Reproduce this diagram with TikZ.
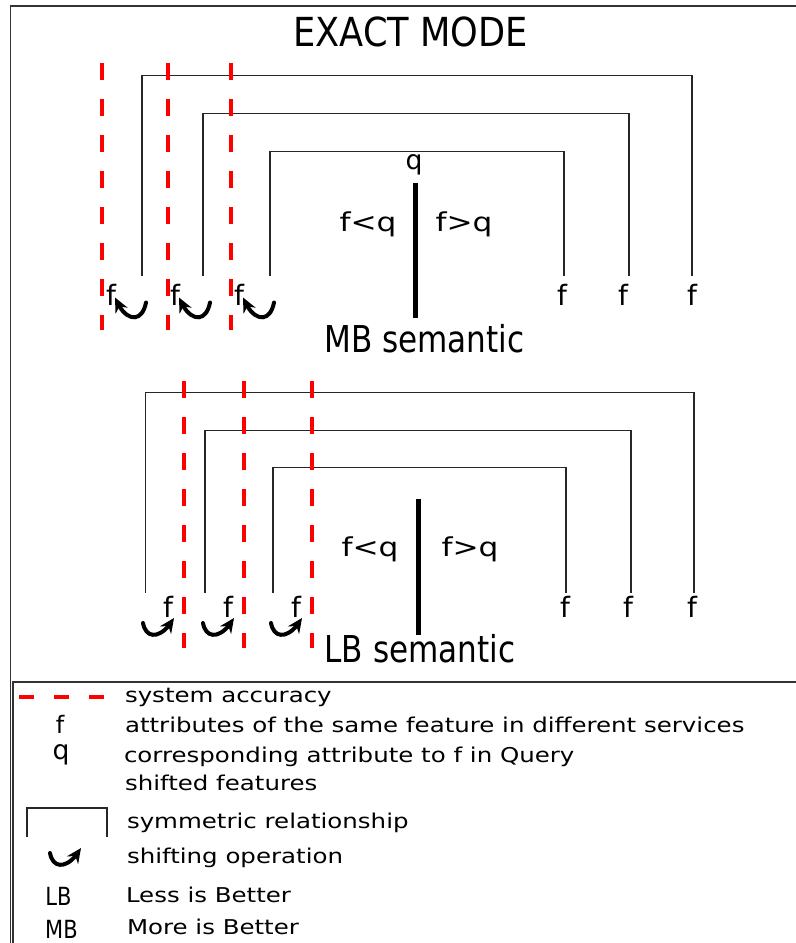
\documentclass[tikz,border=0pt]{standalone}
\usepackage{fontspec}
\setmainfont{DejaVu Sans}
\newfontfamily\widefont[FakeStretch=1.2]{DejaVu Sans}
\newfontfamily\narrowfont[FakeStretch=0.84]{DejaVu Sans}
\newfontfamily\titlefont[FakeStretch=0.88]{DejaVu Sans}
\usetikzlibrary{arrows.meta,bending}
\newcommand\setfs[1]{\fontsize{#1}{#1}\selectfont}

\begin{document}
\begin{tikzpicture}[x=0.75pt,y=-0.75pt,
  lbl/.style={inner sep=0pt, outer sep=0pt},
  feat/.style={lbl, font=\setfs{21}},
  relation/.style={lbl, font=\widefont\setfs{19.5}},
  semantic/.style={lbl, font=\narrowfont\setfs{27.75}},
  legtext/.style={lbl, anchor=west, font=\widefont\setfs{15.3}},
  bracket/.style={line width=1pt, black!85},
  accuracy/.style={red, line width=3pt, dash pattern=on 12.75pt off 14.25pt},
  divider/.style={line width=3.75pt},
  frameline/.style={line width=1.1pt, black!80},
  shiftline/.style={line width=3pt, line cap=round, -{Stealth[length=11pt,width=10pt]}},
  mbshift/.pic={\draw[shiftline] (35,8) .. controls (31,29) and (14,28) .. (4,3);},
  lbshift/.pic={\draw[shiftline] (-25,16) .. controls (-22,33) and (-6,32) .. (6,11);}
]
\useasboundingbox (0,0) rectangle (796,943);

% outer frame and legend box
\draw[frameline] (10.5,943) -- (10.5,6) -- (796,6);
\draw[frameline] (13,943) -- (13,682) -- (796,682);

\node[lbl, font=\titlefont\setfs{30}] (title) at (410.5,31.5) {EXACT MODE};

% ---------- MB semantic ----------
\node[feat] (mbf1) at (111,294.5) {f};
\node[feat] (mbf2) at (175,294.5) {f};
\node[feat] (mbf3) at (239,294.5) {f};
\node[feat] (mbf4) at (562,294.5) {f};
\node[feat] (mbf5) at (623,294.5) {f};
\node[feat] (mbf6) at (692,294.5) {f};

\coordinate (mbo-l) at (142,276);  \coordinate (mbo-r) at (692,276);
\coordinate (mbm-l) at (203,276);  \coordinate (mbm-r) at (629,276);
\coordinate (mbi-l) at (270,276);  \coordinate (mbi-r) at (564,276);
\draw[bracket] (mbo-l) -- ++(0,-200.5) -| (mbo-r);
\draw[bracket] (mbm-l) -- ++(0,-162.5) -| (mbm-r);
\draw[bracket] (mbi-l) -- ++(0,-124.5) -| (mbi-r);

\pic at (mbf1) {mbshift};
\pic at (mbf2) {mbshift};
\pic at (mbf3) {mbshift};

\draw[accuracy] (102,63) -- (102,330);
\draw[accuracy] (167.5,63) -- (167.5,330);
\draw[accuracy] (231,63) -- (231,330);

\node[lbl, font=\setfs{20}] (mbq) at (414,165) {q};
\coordinate (mbd-top) at (415,183);
\coordinate (mbd-bot) at (415,318);
\draw[divider] (mbd-top) -- (mbd-bot);
\node[relation] (mblt) at (368,224.5) {f<q};
\node[relation] (mbgt) at (464,224.5) {f>q};
\node[semantic] (mbsem) at (424.5,338.5) {MB semantic};

% ---------- LB semantic ----------
\node[feat] (lbf1) at (168,607) {f};
\node[feat] (lbf2) at (228,607) {f};
\node[feat] (lbf3) at (296,607) {f};
\node[feat] (lbf4) at (565,607) {f};
\node[feat] (lbf5) at (628,607) {f};
\node[feat] (lbf6) at (692,607) {f};

\coordinate (lbo-l) at (145.5,593);  \coordinate (lbo-r) at (694,593);
\coordinate (lbm-l) at (205,593);    \coordinate (lbm-r) at (631,593);
\coordinate (lbi-l) at (273,593);    \coordinate (lbi-r) at (566,593);
\draw[bracket] (lbo-l) -- ++(0,-200.5) -| (lbo-r);
\draw[bracket] (lbm-l) -- ++(0,-162.5) -| (lbm-r);
\draw[bracket] (lbi-l) -- ++(0,-125.5) -| (lbi-r);

\pic at (lbf1) {lbshift};
\pic at (lbf2) {lbshift};
\pic at (lbf3) {lbshift};

\draw[accuracy] (184,381) -- (184,648);
\draw[accuracy] (244,381) -- (244,648);
\draw[accuracy] (312,381) -- (312,648);

\coordinate (lbd-top) at (418,499);
\coordinate (lbd-bot) at (418,635);
\draw[divider] (lbd-top) -- (lbd-bot);
\node[relation] (lblt) at (370,549.5) {f<q};
\node[relation] (lbgt) at (470,549.5) {f>q};
\node[semantic] (lbsem) at (420,649) {LB semantic};

% ---------- legend ----------
\draw[red, line width=3pt, dash pattern=on 11.25pt off 15pt] (19,697) -- (105,697);
\node[legtext] (leg1) at (125,697) {system accuracy};

\node[lbl, font=\setfs{18}] (legf) at (60,724) {f};
\node[legtext] (leg2) at (125,725) {attributes of the same feature in different services};

\node[lbl, font=\setfs{20}] (legq) at (61,755) {q};
\node[legtext] (leg3) at (124,757) {corresponding attribute to f in Query};

\node[legtext] (leg4) at (125,783) {shifted features};

\draw[bracket] (27,837) |- (107,808) -- (107,837);
\node[legtext] (leg5) at (127,823) {symmetric relationship};

\pic at (75,837) {lbshift};
\node[legtext] (leg6) at (127,858) {shifting operation};

\node[lbl, font=\narrowfont\setfs{18.75}] (legLB) at (58.5,896) {LB};
\node[legtext] (leg7) at (126,895) {Less is Better};

\node[lbl, font=\narrowfont\setfs{18.75}] (legMB) at (61.5,929) {MB};
\node[legtext] (leg8) at (127,926.5) {More is Better};
\end{tikzpicture}
\end{document}
